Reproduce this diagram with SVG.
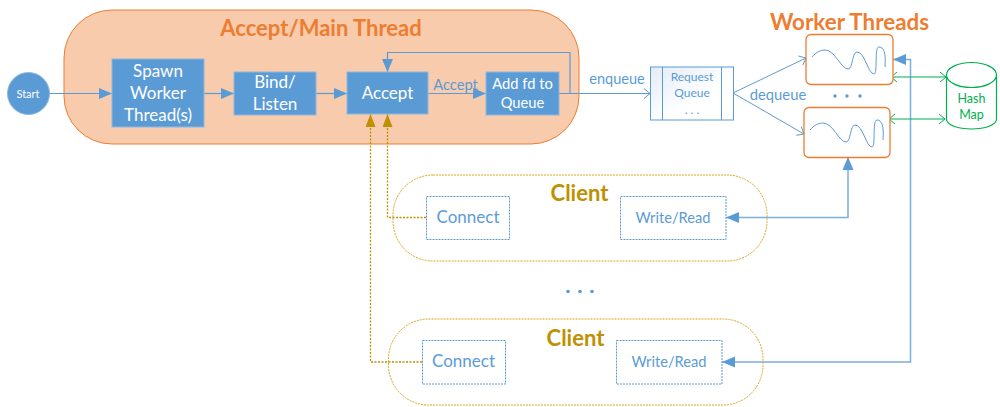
<svg xmlns="http://www.w3.org/2000/svg" width="1000" height="407" viewBox="0 0 1000 407">
<style>
text{font-family:"Lato","Open Sans","Liberation Sans",sans-serif;text-anchor:middle}
.box{fill:#5b9bd5;stroke:#8db8e0;stroke-width:1}
.w{fill:#fff}
.b{fill:#5b9bd5}
.o{fill:#ed7d31;font-weight:700}
.g{fill:#bf9000;font-weight:700}
.dash{fill:#fff;stroke:#5b9bd5;stroke-width:1;stroke-dasharray:2 1}
.cl{fill:#fff;stroke:#d5a81f;stroke-width:1;stroke-dasharray:2 1}
.wk{fill:#fff;stroke:#ed7d31;stroke-width:1.3}
.sq{fill:none;stroke:#5b9bd5;stroke-width:1}
.c{fill:none;stroke:#5b9bd5;stroke-width:1.2}
.ct{fill:none;stroke:#7aaee0;stroke-width:1.500}
.co{fill:none;stroke:#bf9000;stroke-width:1.3;stroke-dasharray:2 1.5}
.cg{fill:none;stroke:#00b050;stroke-width:1.2}
</style>
<defs>
<marker id="tri" markerUnits="userSpaceOnUse" markerWidth="14" markerHeight="12" refX="13" refY="6" orient="auto-start-reverse"><path d="M0 0.500L13 6L0 11.500z" fill="#5b9bd5"/></marker>
<marker id="tgo" markerUnits="userSpaceOnUse" markerWidth="14" markerHeight="12" refX="13" refY="5" orient="auto"><path d="M0 0L13 5L0 10z" fill="#bf9000"/></marker>
<marker id="open" markerUnits="userSpaceOnUse" markerWidth="8" markerHeight="12" refX="7" refY="6" orient="auto"><path d="M1 1L7 6L1 11" fill="none" stroke="#5b9bd5"/></marker>
<marker id="gopen" markerUnits="userSpaceOnUse" markerWidth="8" markerHeight="12" refX="7" refY="6" orient="auto-start-reverse"><path d="M1 1L7 6L1 11" fill="none" stroke="#00b050"/></marker>
<linearGradient id="qg" x1="0" y1="0" x2="1" y2="1"><stop offset="0" stop-color="#e4ecf7"/><stop offset="0.600" stop-color="#fff"/></linearGradient>
<path id="wave" d="M0 10C4 5 9 3 13 3C23 3 29 22 36 22C41 22 40 5 45 5C53 5 56 27 62 27C66 27 62 0 67 0C72 0 74 6 73 20" fill="none" stroke="#5b9bd5" stroke-width="1"/>
</defs>

<g id="main-thread">
<rect x="64" y="10" width="515" height="134" rx="48" fill="#f7cbac" stroke="#ed7d31" stroke-width="1"/>
<text class="o" x="321" y="36" font-size="22">Accept/Main Thread</text>
</g>

<g id="client-1">
<rect class="cl" x="393" y="175" width="374" height="86" rx="40"/>
<text class="g" x="579.500" y="201" font-size="22">Client</text>
</g>
<g id="client-2">
<rect class="cl" x="388.500" y="319" width="374.500" height="86" rx="40"/>
<text class="g" x="575.500" y="346" font-size="22">Client</text>
</g>

<g id="connectors">
<path class="c" d="M49 93.500H112" marker-end="url(#tri)"/>
<path class="c" d="M204 93.500H234" marker-end="url(#tri)"/>
<path class="c" d="M316 93.500H347" marker-end="url(#tri)"/>
<path class="c" d="M428 93.500H486" marker-end="url(#tri)"/>
<path class="c" d="M570 93V52.500H387.500V72" marker-end="url(#tri)"/>
<path class="c" d="M559 93.500H650" marker-end="url(#open)"/>
<path class="sq" d="M733 93L806 58" marker-end="url(#open)"/>
<path class="sq" d="M733 93L804 134" marker-end="url(#open)"/>
<path class="co" d="M426 217.500H387.500V114" marker-end="url(#tgo)"/>
<path class="co" d="M422 362H370.500V114" marker-end="url(#tgo)"/>
<path class="ct" d="M848 157V217.500H726" marker-start="url(#tri)" marker-end="url(#tri)"/>
<path class="ct" d="M893 59.500H910.500V362H722" marker-start="url(#tri)" marker-end="url(#tri)"/>
<path class="cg" d="M891 77H946" marker-start="url(#gopen)" marker-end="url(#gopen)"/>
<path class="cg" d="M889 119H945" marker-start="url(#gopen)" marker-end="url(#gopen)"/>
</g>

<g id="start">
<circle cx="28.500" cy="93.500" r="21" class="box"/>
<text class="w" x="28" y="97.500" font-size="11">Start</text>
</g>
<g id="spawn">
<rect class="box" x="112" y="59" width="92" height="68"/>
<text class="w" x="158" y="77" font-size="17">Spawn</text>
<text class="w" x="158" y="99" font-size="17">Worker</text>
<text class="w" x="158" y="121" font-size="17">Thread(s)</text>
</g>
<g id="bind">
<rect class="box" x="234" y="72" width="82" height="43"/>
<text class="w" x="275" y="88" font-size="17">Bind/</text>
<text class="w" x="275" y="110" font-size="17">Listen</text>
</g>
<g id="accept">
<rect class="box" x="347" y="72" width="81" height="42"/>
<text class="w" x="387.500" y="99" font-size="17">Accept</text>
</g>
<g id="add-fd">
<rect class="box" x="486" y="72" width="73" height="43"/>
<text class="w" x="522.500" y="89" font-size="14.700">Add fd to</text>
<text class="w" x="522.500" y="108" font-size="14.700">Queue</text>
</g>
<text class="b" x="455.500" y="90" font-size="14.700">Accept</text>
<text class="b" x="617" y="84" font-size="14.500">enqueue</text>

<g id="queue">
<rect x="650.500" y="67" width="83" height="53" fill="url(#qg)" stroke="#5b9bd5"/>
<path class="sq" d="M662.500 67V120M721.500 67V120"/>
<text class="b" x="692" y="81" font-size="12">Request</text>
<text class="b" x="692" y="97" font-size="12">Queue</text>
<text class="b" x="692" y="114" font-size="12">. . .</text>
</g>
<text class="b" x="778" y="100" font-size="14.800">dequeue</text>

<g id="worker-threads-title"><text class="o" x="849.500" y="30" font-size="22.400">Worker Threads</text></g>
<g id="worker-1">
<rect class="wk" x="806" y="34.500" width="87" height="50" rx="5"/>
<use href="#wave" x="812" y="47"/>
</g>
<g id="worker-2">
<rect class="wk" x="804" y="107.500" width="86" height="50" rx="5"/>
<use href="#wave" x="810" y="120"/>
</g>
<g id="worker-dots" class="b"><circle cx="835" cy="96" r="1.700"/><circle cx="847" cy="96" r="1.700"/><circle cx="860" cy="96" r="1.700"/></g>

<g id="hash-map">
<path d="M946.500 75V119C946.500 125 958 129 971.500 129S996.500 125 996.500 119V75" fill="#fff" stroke="#00b050" stroke-width="1.200"/>
<ellipse cx="971.500" cy="75" rx="25" ry="12.500" fill="#fff" stroke="#00b050" stroke-width="1.200"/>
<text x="971.500" y="103" font-size="12.500" fill="#00b050">Hash</text>
<text x="971.500" y="119" font-size="12.500" fill="#00b050">Map</text>
</g>

<g id="connect-1"><rect class="dash" x="426.500" y="196.500" width="83" height="43"/><text class="b" x="468" y="223" font-size="17">Connect</text></g>
<g id="write-1"><rect class="dash" x="620.500" y="196.500" width="105.500" height="43"/><text class="b" x="673" y="223" font-size="14.700">Write/Read</text></g>
<g id="connect-2"><rect class="dash" x="422.500" y="340.500" width="83" height="43.500"/><text class="b" x="463.500" y="367" font-size="17">Connect</text></g>
<g id="write-2"><rect class="dash" x="616.500" y="340.500" width="105.500" height="43.500"/><text class="b" x="669" y="367" font-size="14.700">Write/Read</text></g>
<g id="client-dots" class="b"><circle cx="568" cy="291.500" r="1.800"/><circle cx="580" cy="291.500" r="1.800"/><circle cx="592" cy="291.500" r="1.800"/></g>
</svg>
